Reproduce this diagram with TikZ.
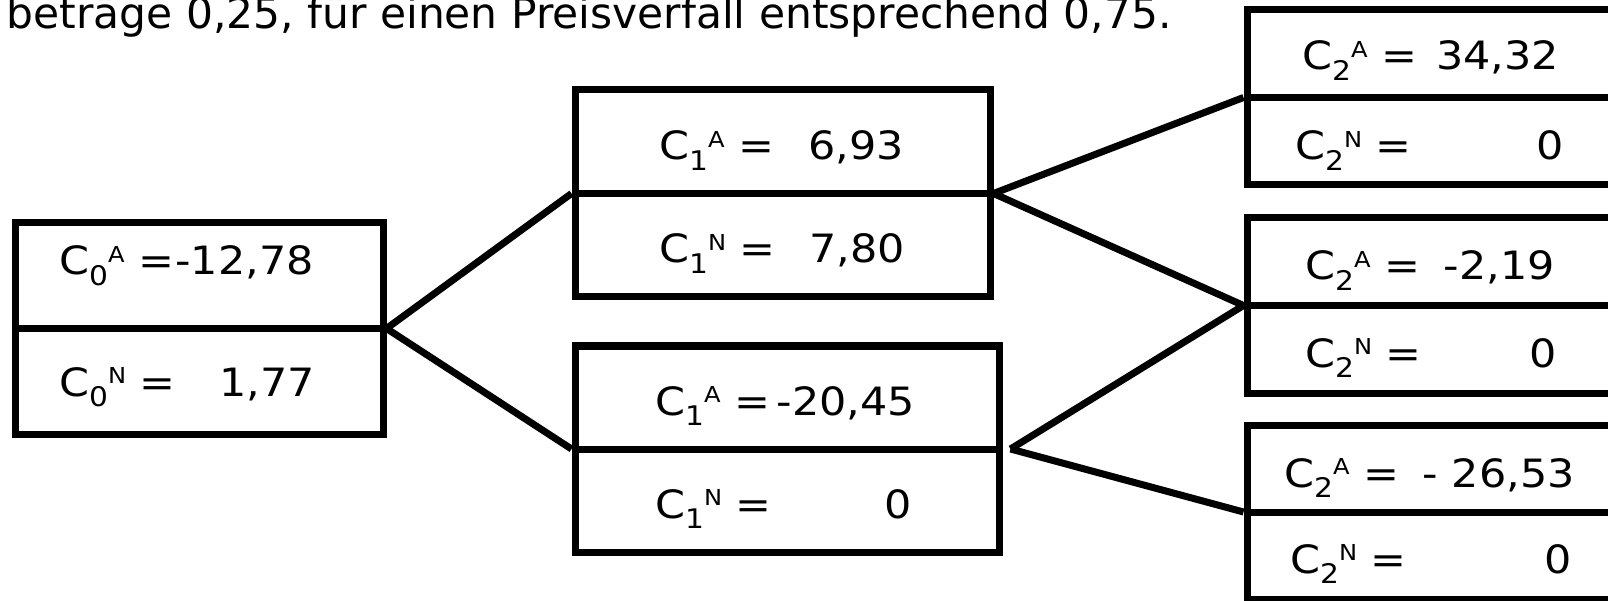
\documentclass[tikz,border=0pt]{standalone}
\usepackage{graphicx}
\usepackage{fontspec}
\setmainfont{DejaVu Sans}
% C with a lowered index and a raised state letter, set one after the other
\newcommand\cval[2]{C\raisebox{-0.26em}{\fontsize{27}{27}\selectfont #1}\raisebox{0.32em}{\fontsize{22}{22}\selectfont #2}}
% the labels are set slightly wide
\newcommand\wide[1]{\scalebox{1.1}[1]{#1}}
\tikzset{
  cell/.style={draw, line width=7pt, rectangle, inner sep=0pt},
  conn/.style={line width=7pt},
  lbl/.style={inner sep=0pt, anchor=base west, font=\fontsize{39}{46}\selectfont},
  val/.style={inner sep=0pt, anchor=base east, font=\fontsize{39}{46}\selectfont},
}
\begin{document}
\begin{tikzpicture}[x=1pt, y=-1pt]
\useasboundingbox (0,0) rectangle (1608,601);

% running text above the tree
\node[inner sep=0pt, anchor=base east, font=\fontsize{42.4}{50}\selectfont] (title) at (1172,29)
  {beträge 0,25, für einen Preisverfall entsprechend 0,75.};

% boxes
\node[cell, minimum width=368pt, minimum height=211pt] (b0)  at (199,328.5) {};
\node[cell, minimum width=415pt, minimum height=207pt] (b1a) at (782.5,193.5) {};
\node[cell, minimum width=424pt, minimum height=206pt] (b1b) at (787,449) {};
\node[cell, minimum width=393pt, minimum height=175pt] (b2a) at (1443.5,97.5) {};
\node[cell, minimum width=393pt, minimum height=175pt] (b2b) at (1443.5,305.5) {};
\node[cell, minimum width=393pt, minimum height=174pt] (b2c) at (1443.5,512) {};

% dividers
\foreach \b in {b0,b1a,b1b,b2a,b2b,b2c}
  \draw[conn] (\b.west) -- (\b.east);

% branches
\coordinate (j1b) at ([xshift=8pt]b1b.east);
\draw[conn] (b0.east) -- (b1a.west);
\draw[conn] (b0.east) -- (b1b.west);
\draw[conn] (b1a.east) -- (b2a.west);
\draw[conn] (b1a.east) -- (b2b.west);
\draw[conn] (j1b) -- (b2b.west);
\draw[conn] (j1b) -- (b2c.west);

% t = 0
\node[lbl] (l0a) at (59,275) {\wide{\cval{0}{A} =}};
\node[val] (v0a) at (314,275) {\wide{-12,78}};
\node[lbl] (l0n) at (59,396) {\wide{\cval{0}{N} =}};
\node[val] (v0n) at (315,396) {\wide{1,77}};

% t = 1
\node[lbl] (l1aa) at (659,160) {\wide{\cval{1}{A} =}};
\node[val] (v1aa) at (904,160) {\wide{6,93}};
\node[lbl] (l1an) at (659,263) {\wide{\cval{1}{N} =}};
\node[val] (v1an) at (905,263) {\wide{7,80}};
\node[lbl] (l1ba) at (655,415) {\wide{\cval{1}{A} =}};
\node[val] (v1ba) at (915,415) {\wide{-20,45}};
\node[lbl] (l1bn) at (655,518) {\wide{\cval{1}{N} =}};
\node[val] (v1bn) at (912,518) {\wide{0}};

% t = 2
\node[lbl] (l2aa) at (1302,70) {\wide{\cval{2}{A} =}};
\node[val] (v2aa) at (1559,70) {\wide{34,32}};
\node[lbl] (l2an) at (1295,160) {\wide{\cval{2}{N} =}};
\node[val] (v2an) at (1564,160) {\wide{0}};
\node[lbl] (l2ba) at (1305,280) {\wide{\cval{2}{A} =}};
\node[val] (v2ba) at (1555,280) {\wide{-2,19}};
\node[lbl] (l2bn) at (1305,367) {\wide{\cval{2}{N} =}};
\node[val] (v2bn) at (1557,367) {\wide{0}};
\node[lbl] (l2ca) at (1284,487) {\wide{\cval{2}{A} =}};
\node[val] (v2ca) at (1575,487) {\wide{- 26,53}};
\node[lbl] (l2cn) at (1290,573) {\wide{\cval{2}{N} =}};
\node[val] (v2cn) at (1572,573) {\wide{0}};
\end{tikzpicture}
\end{document}
